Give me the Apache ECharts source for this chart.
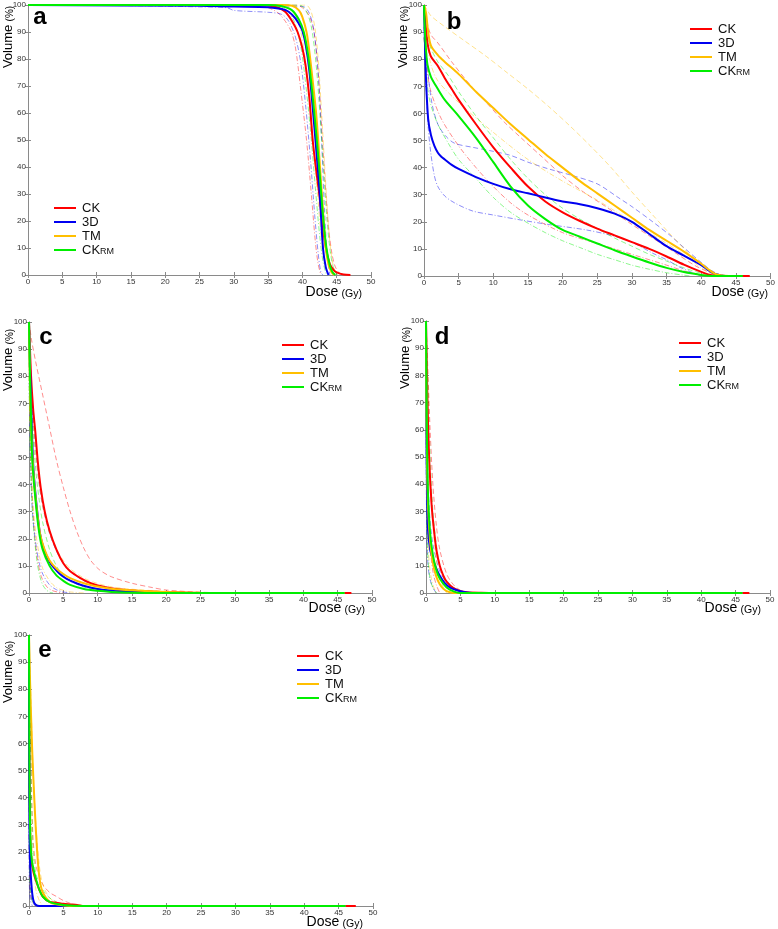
<!DOCTYPE html>
<html><head><meta charset="utf-8">
<script src="https://cdn.jsdelivr.net/npm/echarts@6/dist/echarts.min.js"></script>
<style>html,body{margin:0;padding:0;background:#fff}#c{width:778px;height:929px}</style>
</head><body><div id="c"></div>
<script>
// ---------- categories / ticks ----------
const seriesNames = ['CK', '3D', 'TM', 'CK_RM'];
const panelLetters = ['a', 'b', 'c', 'd', 'e'];
const doseTicks = [0, 50, 5];     // min, max, step (Gy)
const volumeTicks = [0, 100, 10]; // min, max, step (%)

// ---------- panel a : [dose Gy, volume %] ----------
const a_CK = [[0,100],[30,100],[35,99.8],[36.5,99],[37.5,97.5],[38.5,94],[39.3,90],[40,84],[40.5,77],[41,66],[41.5,50],[42,39],[42.5,29],[43,17],[43.5,9],[44,4],[44.5,2],[45,1],[46,0.2],[47,0]];
const a_3D = [[0,100],[25,99.7],[30,99.4],[35,99.2],[37,98.5],[38,97.5],[39,95],[39.5,93],[40,90.5],[40.5,85],[41,76],[41.5,62],[42,47],[42.5,31],[43,10],[43.4,3],[43.8,0]];
const a_TM = [[0,100],[37,100],[38.5,99.7],[39.5,98],[40,95.5],[40.6,90],[41,83],[41.5,72],[42,60],[42.3,50],[42.7,35],[43,24],[43.4,10],[43.8,4],[44.2,1.2],[44.6,0]];
const a_RM = [[0,100],[35,100],[37,99.5],[38.5,98],[39.5,94.5],[40.2,90],[40.8,82],[41.3,71],[41.7,61],[42.1,50],[42.5,38],[43,22],[43.5,10],[44,3.5],[44.4,1],[44.8,0]];
const a_CK_hi = [[0,100],[39,100],[40,99],[41,96],[41.7,90],[42.3,75],[42.8,55],[43.3,35],[43.8,18],[44.3,8],[44.8,3],[45.5,0.5],[46,0]];
const a_CK_lo = [[0,100],[33,100],[35,99],[36.5,97],[37.5,94],[38.4,90],[39,84],[39.7,70],[40.6,50],[41.3,30],[41.9,12],[42.3,4],[42.7,0]];
const a_3D_hi = [[0,100],[40,99.5],[41,97],[41.7,90],[42.3,75],[42.8,50],[43.2,25],[43.6,8],[44,0]];
const a_3D_lo = [[0,100],[17,99.7],[25,99.3],[29,99],[30,98],[35,97.3],[37,96.5],[38,94],[39,88],[39.8,78],[40.5,62],[41.2,42],[41.8,22],[42.3,8],[42.7,1],[43,0]];
const a_TM_hi = [[0,100],[40.5,100],[41.2,98],[41.8,92],[42.3,80],[42.8,60],[43.3,38],[43.8,18],[44.3,6],[44.8,1],[45.2,0]];
const a_TM_lo = [[0,100],[37,100],[38.5,98],[39.5,93],[40.3,82],[41,66],[41.6,48],[42.2,30],[42.8,13],[43.3,4],[43.8,0]];
const a_RM_hi = [[0,100],[39.5,100],[40.5,98],[41.3,92],[42,78],[42.6,58],[43.1,38],[43.6,20],[44.1,8],[44.6,2],[45.1,0]];
const a_RM_lo = [[0,100],[36,100],[37.5,98.5],[38.8,94],[39.8,84],[40.6,68],[41.3,50],[41.9,32],[42.5,15],[43,5],[43.5,0]];

// ---------- panel b ----------
const b_CK = [[0,100],[0.2,94],[0.5,86],[1,81],[2,77.5],[3,73],[4,69],[5,65],[7.5,56],[10,47.5],[12.5,40],[15,33],[17.5,27.5],[20,23.5],[22.5,20.3],[25,17.5],[27.5,15],[30,12.5],[32.5,10],[35,7.2],[37.5,4.2],[40,1.5],[41,0.6],[42,0.1],[43,0],[47,0]];
const b_3D = [[0,100],[0.1,90],[0.3,72],[0.6,58],[1,52],[1.5,48],[2,45.5],[2.5,44],[3,43],[4,41],[5,39.5],[7.5,36.5],[10,34],[12.5,32],[15,30.5],[17.5,29],[20,27.5],[22.5,26.5],[25,25],[27.5,23],[30,20],[32.5,15.5],[35,11],[37.5,7.5],[40,4],[41,2.2],[42,0.8],[43,0.2],[43.5,0]];
const b_TM = [[0,100],[0.3,97],[0.6,90],[1,85],[2,81.5],[3,79],[5,74.5],[7.5,68],[10,62],[12.5,56],[15,50.5],[17.5,45],[20,40],[22.5,35],[25,30.5],[27.5,26],[30,21.5],[32.5,17],[35,13],[37.5,9],[40,4.5],[41,2.5],[42,0.8],[43,0.2],[44,0]];
const b_RM = [[0,100],[0.1,92],[0.3,83],[0.5,78],[1,73.5],[2,69],[3,65],[5,59],[7.5,51],[10,42],[12.5,33],[15,26],[17.5,21],[20,17],[22.5,14.5],[25,12],[27.5,9.5],[30,7.2],[32.5,5],[35,3],[37.5,1.5],[40,0.4],[41,0.1],[42,0],[46,0]];
const b_CK_hi = [[0,100],[0.5,93],[1,89],[2,86],[4,79],[6.5,71],[9,64],[11.5,57],[14,51],[17,44],[20,37],[23,31],[26,26],[30,19],[33,14],[36,9],[39,4],[41,1.5],[42.5,0]];
const b_CK_lo = [[0,88],[0.5,75],[1,68],[2.5,58],[5,48],[7.5,40],[10,33],[12.5,27],[15,22.5],[20,16],[25,12],[30,8],[35,4],[38,1.5],[40,0.5],[41,0]];
const b_3D_hi = [[0,98],[0.3,85],[0.7,72],[1.2,63],[2,56],[3,52],[4.4,49],[7,47.5],[10,46],[12.5,44.5],[15,42],[18,39.5],[21.5,37],[25,34],[28,29],[30,25.6],[33,20],[35.5,15],[37.7,10],[40,5],[41.5,2],[43,0]];
const b_3D_lo = [[0,92],[0.3,70],[0.6,55],[1,45],[1.5,37],[2,33],[3,29.5],[4.4,27],[7,24],[10,22.5],[13.9,20.7],[18,19],[23.4,17],[27,15],[30,12.5],[33,8.4],[35,6],[36.8,3.4],[38.5,1.5],[40,0]];
const b_TM_hi = [[0,100],[0.5,98],[1,96],[3,92],[6,86.5],[9,81],[12,75],[15,69],[18,62.5],[21,55.5],[24,48],[27,40],[30,31],[33,22.5],[35.5,15.5],[37.7,9.6],[39.5,5],[40.6,3],[41.5,1.2],[42.5,0]];
const b_TM_lo = [[0,95],[0.5,85],[1,78],[2,72],[5,64],[10,53],[15,43],[20,35],[25,28],[30,20],[35,12],[38,7],[40,3],[41.5,1],[42.5,0]];
const b_RM_hi = [[0,100],[0.5,88],[1,84],[2,79],[3.5,74],[5,68],[7.5,59],[10,51],[12.5,43],[15,36],[17.5,30],[20,25],[22.5,21],[25,17.5],[27.5,14],[30,11],[32.5,8],[35,5.5],[37.5,3],[40,1],[41.5,0]];
const b_RM_lo = [[0,88],[0.5,70],[1,63],[2,56],[3.5,49],[5,43],[7.5,36],[10,29],[12.5,23.5],[15,19.5],[17.5,16],[20,13],[22.5,10.5],[25,8],[27.5,6],[30,4],[32.5,2.5],[35,1.2],[37.5,0.3],[38.5,0]];

// ---------- panel c ----------
const c_CK = [[0,100],[0.1,93],[0.3,80],[0.6,68],[0.9,60],[1.3,48],[1.7,39],[2.3,30],[3,23],[4,16],[5,11],[6,8],[7.5,5.5],[9,3.6],[11,2.2],[13,1.4],[16,0.7],[20,0.3],[25,0],[47,0]];
const c_3D = [[0,100],[0.1,88],[0.3,70],[0.6,48],[1,35],[1.6,22],[2.2,16],[3,11.5],[3.5,9.7],[4.5,7],[5.5,5.2],[7,3.5],[8.5,2.3],[10,1.5],[12,0.9],[15,0.4],[20,0.1],[25,0],[46,0]];
const c_TM = [[0,100],[0.1,82],[0.3,62],[0.6,46],[1,34],[1.6,22],[2.2,16.5],[3,12],[4,9],[5,7],[6,5.5],[8,3.6],[10,2.4],[12,1.6],[15,1],[20,0.4],[25,0.1],[30,0],[46,0]];
const c_RM = [[0,100],[0.1,85],[0.3,65],[0.5,48],[1,33],[1.5,22],[2,16],[3,10],[4,6.5],[5,4.5],[6,3],[8,1.5],[10,0.8],[12,0.4],[15,0.1],[20,0],[46,0]];
const c_CK_hi = [[0,100],[0.4,93],[1,85],[2,73],[3,61],[4,49],[5,39],[6,30],[7,22.5],[8,16.5],[9,12],[10.3,8.5],[12,6],[15,3.6],[18,2],[20,1.1],[25,0.3],[30,0]];
const c_CK_lo = [[0,95],[0.2,60],[0.5,35],[0.8,22],[1.2,13],[1.8,6],[2.6,2.3],[3.5,0.8],[5,0]];
const c_3D_hi = [[0,100],[0.3,80],[0.6,65],[1,52],[1.5,40],[2,32],[3,22],[4,15.5],[5,11],[6,8],[8,4.5],[10,2.8],[12,1.8],[15,1],[20,0.3],[25,0]];
const c_3D_lo = [[0,85],[0.2,50],[0.5,30],[1,18],[1.5,11],[2,7],[3,3],[4,1.2],[5,0.4],[6,0]];
const c_TM_hi = [[0,100],[0.3,78],[0.6,62],[1,50],[1.5,40],[2,32],[3,22],[4,16],[5,12],[6,9],[8,5.5],[10,3.5],[12,2.3],[15,1.4],[20,0.6],[25,0.2],[30,0]];
const c_TM_lo = [[0,80],[0.2,55],[0.5,35],[1,22],[1.5,14],[2,9],[3,4.5],[4,2],[5,1],[6,0.4],[8,0]];
const c_RM_hi = [[0,100],[0.3,75],[0.6,58],[1,45],[1.5,34],[2,26],[3,16],[4,10],[5,6.5],[6,4.5],[8,2.2],[10,1],[12,0.4],[15,0],[46,0]];
const c_RM_lo = [[0,80],[0.2,50],[0.5,30],[0.8,20],[1.2,11],[1.6,6],[2,3],[2.5,1.2],[3,0.3],[3.5,0]];

// ---------- panel d ----------
const d_CK = [[0,100],[0.1,85],[0.3,62],[0.5,47],[0.8,33],[1,27],[1.5,16],[2,10],[2.5,6.5],[3,4.2],[4,1.8],[5,0.7],[6,0.3],[8,0.1],[10,0],[47,0]];
const d_3D = [[0,100],[0.05,65],[0.15,38],[0.3,23],[0.6,16],[1,12.5],[1.5,9],[2,6.3],[2.7,3.7],[3.5,2],[4.5,1],[5.5,0.4],[7,0],[46,0]];
const d_TM = [[0,100],[0.05,75],[0.15,50],[0.3,32],[0.6,19],[1,11],[1.5,6],[2,3.2],[2.5,1.6],[3,0.7],[4,0],[46,0]];
const d_RM = [[0,100],[0.05,80],[0.15,55],[0.3,36],[0.6,22],[1,14],[1.5,8.5],[2,5.3],[3,2],[4,0.6],[5,0],[46,0]];
const d_CK_hi = [[0,100],[0.3,80],[0.6,60],[1,40],[1.5,25],[2,16],[3,7],[4,3],[5,1],[6,0]];
const d_CK_lo = [[0,90],[0.2,40],[0.5,20],[1,8],[1.5,3],[2,0]];
const d_3D_hi = [[0,100],[0.2,50],[0.5,30],[1,18],[2,8],[3,4],[4,2],[6,0]];
const d_3D_lo = [[0,60],[0.1,25],[0.3,10],[0.6,5],[1,2],[1.5,0]];
const d_TM_hi = [[0,100],[0.2,70],[0.5,45],[1,25],[1.5,12],[2,5],[3,0]];
const d_TM_lo = [[0,80],[0.1,40],[0.3,18],[0.6,8],[1,3],[1.5,0]];
const d_RM_hi = [[0,100],[0.3,75],[0.6,50],[1,30],[1.5,18],[2,10],[3,3],[4,0],[46,0]];
const d_RM_lo = [[0,70],[0.1,30],[0.3,12],[0.6,5],[1,2],[1.5,0]];

// ---------- panel e ----------
const e_CK = [[0,100],[0.05,55],[0.1,38],[0.2,24],[0.4,16],[0.7,12],[1,9.5],[1.5,6],[2,3.5],[3,1.5],[4,1.2],[5,0.8],[6,0.6],[7,0.4],[8,0],[47.5,0]];
const e_3D = [[0,100],[0.03,50],[0.1,22],[0.2,14],[0.35,8],[0.5,4],[0.7,1.5],[1,0.4],[1.5,0],[46,0]];
const e_TM = [[0,100],[0.1,88],[0.3,70],[0.5,55],[0.8,38],[1,28],[1.3,16],[1.6,9],[2,5],[3,1.5],[4,0.6],[6,0],[46,0]];
const e_RM = [[0,100],[0.05,60],[0.1,40],[0.2,25],[0.4,17],[0.7,13],[1,10],[1.5,6],[2,3.5],[3,1.5],[5,0.4],[8,0],[46,0]];
const e_CK_hi = [[0,100],[0.5,30],[1,15],[2,8],[3,5],[4,3.5],[5,2],[6,1],[7,0]];
const e_CK_lo = [[0,30],[0.1,10],[0.3,3],[0.6,1],[1,0]];
const e_3D_hi = [[0,60],[0.1,15],[0.3,4],[0.6,1],[1,0]];
const e_3D_lo = [[0,30],[0.05,8],[0.2,2],[0.5,0]];
const e_TM_hi = [[0,100],[0.3,75],[0.6,50],[1,30],[1.5,15],[2,8],[3,3],[5,0]];
const e_TM_lo = [[0,70],[0.2,40],[0.5,20],[1,6],[1.5,2],[2,0]];
const e_RM_hi = [[0,100],[0.5,25],[1,12],[2,6],[3,3],[4,1.5],[5,0]];
const e_RM_lo = [[0,40],[0.1,12],[0.3,4],[0.6,1],[1,0]];

// ---------- assembly ----------
const panelCurves = [
  [[a_CK,a_CK_hi,a_CK_lo],[a_3D,a_3D_hi,a_3D_lo],[a_TM,a_TM_hi,a_TM_lo],[a_RM,a_RM_hi,a_RM_lo]],
  [[b_CK,b_CK_hi,b_CK_lo],[b_3D,b_3D_hi,b_3D_lo],[b_TM,b_TM_hi,b_TM_lo],[b_RM,b_RM_hi,b_RM_lo]],
  [[c_CK,c_CK_hi,c_CK_lo],[c_3D,c_3D_hi,c_3D_lo],[c_TM,c_TM_hi,c_TM_lo],[c_RM,c_RM_hi,c_RM_lo]],
  [[d_CK,d_CK_hi,d_CK_lo],[d_3D,d_3D_hi,d_3D_lo],[d_TM,d_TM_hi,d_TM_lo],[d_RM,d_RM_hi,d_RM_lo]],
  [[e_CK,e_CK_hi,e_CK_lo],[e_3D,e_3D_hi,e_3D_lo],[e_TM,e_TM_hi,e_TM_lo],[e_RM,e_RM_hi,e_RM_lo]]
];

// layout (pixels) and style
const colors = ['#ff0000', '#0000f0', '#ffbf00', '#00ee00'];
const gridBoxes = [
  {left: 28, top: 5, width: 343, height: 270},
  {left: 424, top: 5, width: 350, height: 271},
  {left: 29, top: 322, width: 343, height: 271},
  {left: 426, top: 321, width: 344, height: 272},
  {left: 29, top: 635, width: 344, height: 271}
];
const legendPos = [[54, 202], [690, 23], [282, 339], [679, 337], [297, 650]];
const letterPos = [[40, 17], [454, 22], [46, 337], [442, 337], [45, 650]];
const yTitlePos = [[8, 37], [403, 37], [8, 360], [405, 358], [8, 672]];
const xTitlePos = [[362, 292], [768, 292], [365, 608], [761, 608], [363, 922]];

const axisGray = '#8a8a8a';
const font = 'Arial, "Liberation Sans", sans-serif';

const grid = [], xAxis = [], yAxis = [], series = [], legend = [], graphic = [];
gridBoxes.forEach((g, i) => {
  grid.push(Object.assign({containLabel: false}, g));
  const xBase = {type: 'value', gridIndex: i, min: doseTicks[0], max: doseTicks[1], interval: doseTicks[2],
    splitLine: {show: false},
    axisLine: {show: true, lineStyle: {color: axisGray, width: 1}},
    axisTick: {show: true, inside: true, length: 3, lineStyle: {color: axisGray}}};
  xAxis.push(Object.assign({}, xBase, {position: 'bottom',
    axisLabel: {fontSize: 8, color: '#333', margin: 3, fontFamily: font}}));
  xAxis.push(Object.assign({}, xBase, {position: 'top', axisLabel: {show: false}}));
  const yBase = {type: 'value', gridIndex: i, min: volumeTicks[0], max: volumeTicks[1], interval: volumeTicks[2],
    splitLine: {show: false},
    axisLine: {show: true, lineStyle: {color: axisGray, width: 1}},
    axisTick: {show: true, inside: true, length: 3, lineStyle: {color: axisGray}}};
  yAxis.push(Object.assign({}, yBase, {position: 'left',
    axisLabel: {fontSize: 8, color: '#333', margin: 2, fontFamily: font}}));
  yAxis.push(Object.assign({}, yBase, {position: 'right', axisLabel: {show: false}}));

  const curves = panelCurves[i];
  // dashed bands first
  curves.forEach((c, k) => {
    [1, 2].forEach(j => {
      series.push({name: seriesNames[k] + (j === 1 ? ' hi' : ' lo'), type: 'line', data: c[j],
        xAxisIndex: i * 2, yAxisIndex: i * 2, symbol: 'none', smooth: 0.3, animation: false, silent: true,
        color: colors[k], z: 2,
        lineStyle: {width: 1, color: colors[k], opacity: 0.45, type: j === 1 ? [5, 3] : [5, 2, 1, 2]}});
    });
  });
  curves.forEach((c, k) => {
    series.push({name: seriesNames[k], type: 'line', data: c[0],
      xAxisIndex: i * 2, yAxisIndex: i * 2, symbol: 'none', smooth: 0.3, animation: false, silent: true,
      color: colors[k], z: 3, lineStyle: {width: 2, color: colors[k]}});
  });

  legend.push({data: seriesNames, orient: 'vertical', left: legendPos[i][0], top: legendPos[i][1],
    itemWidth: 22, itemHeight: 2, itemGap: 1, icon: 'rect', padding: 0, selectedMode: false,
    formatter: n => n === 'CK_RM' ? '{a|CK}{b|RM}' : '{a|' + n + '}',
    textStyle: {fontFamily: font, color: '#111', padding: [0, 0, 0, 1],
      rich: {a: {fontSize: 13, lineHeight: 14, color: '#111', fontFamily: font, verticalAlign: 'bottom'},
             b: {fontSize: 9, lineHeight: 14, color: '#111', fontFamily: font, verticalAlign: 'bottom', padding: [0, 0, 1, 0]}}}});

  graphic.push({type: 'text', x: letterPos[i][0], y: letterPos[i][1], z: 10,
    style: {text: panelLetters[i], font: 'bold 24px ' + font, fill: '#000', align: 'center', verticalAlign: 'middle'}});
  graphic.push({type: 'text', x: yTitlePos[i][0], y: yTitlePos[i][1], rotation: Math.PI / 2, z: 10,
    style: {text: '{v|Volume} {p|(%)}', align: 'center', verticalAlign: 'middle', fill: '#000',
      rich: {v: {fontSize: 13, fontFamily: font, fill: '#000', verticalAlign: 'bottom', lineHeight: 14},
             p: {fontSize: 10, fontFamily: font, fill: '#000', verticalAlign: 'bottom', lineHeight: 14}}}});
  graphic.push({type: 'text', x: xTitlePos[i][0], y: xTitlePos[i][1], z: 10,
    style: {text: '{v|Dose} {p|(Gy)}', align: 'right', verticalAlign: 'middle', fill: '#000',
      rich: {v: {fontSize: 14, fontFamily: font, fill: '#000', verticalAlign: 'bottom', lineHeight: 15},
             p: {fontSize: 10.5, fontFamily: font, fill: '#000', verticalAlign: 'bottom', lineHeight: 15}}}});
});

const chart = echarts.init(document.getElementById('c'), null, {renderer: 'canvas'});
chart.setOption({backgroundColor: '#fff', animation: false, grid, xAxis, yAxis, series, legend, graphic});
</script>
</body></html>
